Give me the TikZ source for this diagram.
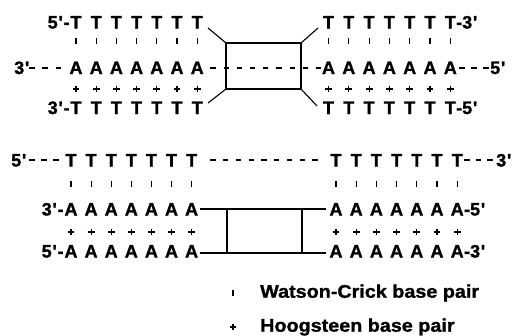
\documentclass[tikz,border=0pt]{standalone}
\usepackage{fontspec}
\setmainfont{Liberation Sans}[BoldFeatures={FakeBold=1.3}]
\newfontfamily\legfont{Liberation Sans}[FakeStretch=1.08,BoldFeatures={FakeBold=1.2}]
\newcommand\myq{\textquotesingle}
\begin{document}
\begin{tikzpicture}[x=1pt,y=-1pt,
  base/.style={font=\fontsize{18}{18}\selectfont\bfseries, inner sep=0pt, anchor=base},
  lab/.style={font=\fontsize{18}{18}\selectfont\bfseries, inner sep=0pt},
  leg/.style={font=\legfont\fontsize{18.3}{18.3}\selectfont\bfseries, inner sep=0pt, anchor=west},
  wc/.style={line width=1.2pt},
  hy/.style={line width=2.3pt},
  ln/.style={line width=1.1pt}]
\useasboundingbox (0,0) rectangle (513,335);

% ---------------- top block ----------------
\foreach \i in {0,...,6}{
  \pgfmathsetmacro{\xl}{76+20.2*\i}
  \pgfmathsetmacro{\xr}{328.5+20.3*\i}
  \node[base] (tlT\i) at (\xl,28.5) {T};
  \node[base] (tlA\i) at (\xl,74) {A};
  \node[base] (tlH\i) at (\xl,114) {T};
  \draw[wc] (\xl,38.3) -- (\xl,44);
  \draw[wc] (\xl-3.4,89) -- (\xl+3.4,89) (\xl,85.6) -- (\xl,92.4);
  \node[base] (trT\i) at (\xr,28.5) {T};
  \node[base] (trA\i) at (\xr,74) {A};
  \node[base] (trH\i) at (\xr,114) {T};
  \draw[wc] (\xr,38.3) -- (\xr,44);
  \draw[wc] (\xr-3.4,89) -- (\xr+3.4,89) (\xr,85.6) -- (\xr,92.4);
}
\node[lab,anchor=base east] (tl1) at ([xshift=-0.5pt]tlT0.base west) {5\kern0.8pt\myq\kern0.8pt-};
\node[lab,anchor=base west] (tl2) at (14,74) {3\kern0.8pt\myq};
\node[lab,anchor=base east] (tl3) at ([xshift=-0.5pt]tlH0.base west) {3\kern0.8pt\myq\kern0.8pt-};
\node[lab,anchor=base west] (tr1) at (trT6.base east) {-3\kern0.8pt\myq};
\node[lab,anchor=base west] (tr2) at (490,74) {5\kern0.8pt\myq};
\node[lab,anchor=base west] (tr3) at (trH6.base east) {-5\kern0.8pt\myq};
% hyphen dashes
\foreach \c in {32,45,58.3,462,474,486}{
  \draw[hy] (\c-2.6,67.8) -- (\c+2.6,67.8);
}
\foreach \k in {0,...,8}{
  \pgfmathsetmacro{\c}{213+13.2*\k}
  \draw[hy] (\c-2.6,67.8) -- (\c+2.6,67.8);
}
% box and diagonals
\coordinate (ta) at (226,43);
\coordinate (tb) at (301,43);
\coordinate (tc) at (301,89);
\coordinate (td) at (226,89);
\coordinate (e1) at (208,28);
\coordinate (e2) at (208,103);
\coordinate (e3) at (318,28);
\coordinate (e4) at (317,106);
\draw[ln] (ta) -- (tb) -- (tc) -- (td) -- cycle;
\draw[ln] (e1) -- (ta);
\draw[ln] (e2) -- (td);
\draw[ln] (e3) -- (tb);
\draw[ln] (e4) -- (tc);

% ---------------- bottom block ----------------
\foreach \i in {0,...,6}{
  \pgfmathsetmacro{\xl}{71+20.1*\i}
  \pgfmathsetmacro{\xr}{336+20.2*\i}
  \node[base] (blT\i) at (\xl,166.5) {T};
  \node[base] (blA\i) at (\xl,215.5) {A};
  \node[base] (blB\i) at (\xl,257.5) {A};
  \draw[wc] (\xl,181.2) -- (\xl,187);
  \draw[wc] (\xl-3.4,232) -- (\xl+3.4,232) (\xl,228.6) -- (\xl,235.4);
  \node[base] (brT\i) at (\xr,166.5) {T};
  \node[base] (brA\i) at (\xr,215.5) {A};
  \node[base] (brB\i) at (\xr,257.5) {A};
  \draw[wc] (\xr,181.2) -- (\xr,187);
  \draw[wc] (\xr-3.4,232) -- (\xr+3.4,232) (\xr,228.6) -- (\xr,235.4);
}
\node[lab,anchor=base west] (bl1) at (11,166.5) {5\kern0.8pt\myq};
\node[lab,anchor=base east] (bl2) at ([xshift=-0.5pt]blA0.base west) {3\kern0.8pt\myq\kern0.8pt-};
\node[lab,anchor=base east] (bl3) at ([xshift=-0.5pt]blB0.base west) {5\kern0.8pt\myq\kern0.8pt-};
\node[lab,anchor=base west] (br1) at (496,166.5) {3\kern0.8pt\myq};
\node[lab,anchor=base west] (br2) at (brA6.base east) {-5\kern0.8pt\myq};
\node[lab,anchor=base west] (br3) at (brB6.base east) {-3\kern0.8pt\myq};
\foreach \c in {32,44,56,467,478.5,490}{
  \draw[hy] (\c-2.6,160.2) -- (\c+2.6,160.2);
}
\foreach \k in {0,...,8}{
  \pgfmathsetmacro{\c}{213+12.75*\k}
  \draw[hy] (\c-2.6,160.2) -- (\c+2.6,160.2);
}
\coordinate (ba) at (227,209);
\coordinate (bb) at (302,209);
\coordinate (bc) at (302,253);
\coordinate (bd) at (227,253);
\draw[ln] ([xshift=2pt]ba -| blA6.east) -- (ba) -- (bb) -- ([xshift=-3pt]bb -| brA0.west);
\draw[ln] ([xshift=2pt]bd -| blB6.east) -- (bd) -- (bc) -- ([xshift=-3pt]bc -| brB0.west);
\draw[ln] (ba) -- (bd);
\draw[ln] (bb) -- (bc);

% ---------------- legend ----------------
\draw[wc] (233,289.7) -- (233,296.3);
\draw[wc] (229.6,327) -- (236.4,327) (233,323.6) -- (233,330.4);
\node[leg] (w) at (260,293) {Watson-Crick base pair};
\node[leg] (h) at (260,327) {Hoogsteen base pair};
\end{tikzpicture}
\end{document}
